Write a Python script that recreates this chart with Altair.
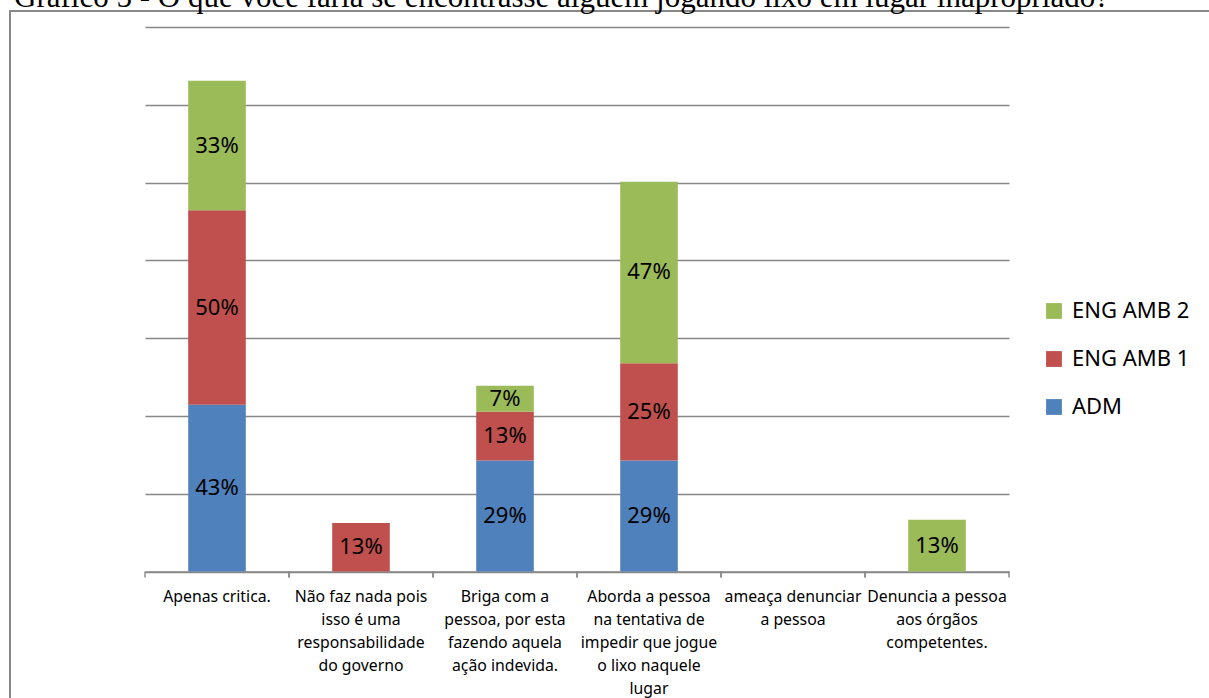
import altair as alt
import pandas as pd

# ---- data ----
categories = [
    "Apenas critica.",
    "Não faz nada pois\nisso é uma\nresponsabilidade\ndo governo",
    "Briga com a\npessoa, por esta\nfazendo aquela\nação indevida.",
    "Aborda a pessoa\nna tentativa de\nimpedir que jogue\no lixo naquele\nlugar",
    "ameaça denunciar\na pessoa",
    "Denuncia a pessoa\naos órgãos\ncompetentes.",
]
series = ["ADM", "ENG AMB 1", "ENG AMB 2"]
adm = [42.86, 0, 28.57, 28.57, 0, 0]
eng1 = [50.0, 12.5, 12.5, 25.0, 0, 0]
eng2 = [33.33, 0, 6.67, 46.67, 0, 13.33]
colors = ["#4F81BD", "#C0504D", "#9BBB59"]
title_text = "Gráfico 5 - O que você faria se encontrasse alguém jogando lixo em lugar inapropriado?"

rows = []
for s_i, (name, vals) in enumerate(zip(series, [adm, eng1, eng2])):
    for c, v in zip(categories, vals):
        if v > 0:
            rows.append({"cat": c, "serie": name, "v": v, "ord": s_i})
df = pd.DataFrame(rows)

W, H = 864, 544.5
FONT = "Noto Sans"

x_axis = alt.Axis(
    title=None,
    labelAngle=0,
    ticks=False,
    grid=False,
    domainColor="#878787",
    domainWidth=1.4,
    labelExpr="split(datum.value, '\\n')",
    labelFont=FONT,
    labelFontSize=15.8,
    labelLineHeight=23,
    labelColor="#000000",
    labelPadding=18,
    labelLimit=300,
)
x_scale = alt.Scale(domain=categories, paddingInner=0, paddingOuter=0)
y_scale = alt.Scale(domain=[0, 140], nice=False)
y_axis = alt.Axis(
    title=None,
    values=[0, 20, 40, 60, 80, 100, 120, 140],
    labels=False,
    ticks=False,
    domain=False,
    grid=True,
    gridColor="#878787",
    gridWidth=1.4,
)

base = alt.Chart(df)

bars = base.mark_bar(width=alt.RelativeBandSize(0.4)).encode(
    x=alt.X("cat:N", sort=categories, scale=x_scale, axis=x_axis),
    y=alt.Y("v:Q", stack="zero", scale=y_scale, axis=y_axis),
    color=alt.Color(
        "serie:N",
        scale=alt.Scale(domain=["ENG AMB 2", "ENG AMB 1", "ADM"],
                        range=[colors[2], colors[1], colors[0]]),
        legend=alt.Legend(
            title=None,
            orient="none",
            legendX=898,
            legendY=273,
            padding=0,
            symbolType="square",
            symbolSize=250,
            symbolStrokeWidth=0,
            labelFont=FONT,
            labelFontSize=22,
            labelColor="#000000",
            labelOffset=7,
            rowPadding=26,
        ),
    ),
    order=alt.Order("ord:Q", sort="ascending"),
)

labels = (
    base.transform_stack(
        stack="v", groupby=["cat"], as_=["y0", "y1"], sort=[alt.SortField("ord", order="ascending")]
    )
    .transform_calculate(mid="(datum.y0 + datum.y1) / 2", lab="format(datum.v / 100, '.0%')")
    .mark_text(font=FONT, fontSize=22, color="#000000", baseline="middle")
    .encode(
        x=alt.X("cat:N", sort=categories, scale=x_scale, axis=x_axis),
        y=alt.Y("mid:Q", scale=y_scale, axis=y_axis),
        text="lab:N",
    )
)

cat_df = pd.DataFrame({"cat": categories})
ticks_left = alt.Chart(cat_df).mark_rule(color="#878787", strokeWidth=1.4).encode(
    x=alt.X("cat:N", sort=categories, bandPosition=0, scale=x_scale, axis=x_axis),
    y=alt.value(H),
    y2=alt.value(H + 6),
)
ticks_right = alt.Chart(cat_df).mark_rule(color="#878787", strokeWidth=1.4).encode(
    x=alt.X("cat:N", sort=categories, bandPosition=1, scale=x_scale, axis=x_axis),
    y=alt.value(H),
    y2=alt.value(H + 6),
)

frame = alt.Chart(pd.DataFrame({"k": [0]})).mark_rect(
    fill="transparent", stroke="#888888", strokeWidth=2
).encode(
    x=alt.value(-135), y=alt.value(-16), x2=alt.value(1209 - 145 + 20), y2=alt.value(698 - 27 + 20)
)

title = alt.Chart(pd.DataFrame({"t": [title_text]})).mark_text(
    font="Liberation Serif", fontSize=31, align="left", baseline="alphabetic", color="#000000"
).encode(text="t:N", x=alt.value(-145 + 14), y=alt.value(-27 + 6.5))

chart = (
    alt.layer(frame, title, bars, labels, ticks_left, ticks_right)
    .properties(
        width=W,
        height=H,
        autosize=alt.AutoSizeParams(type="none"),
        padding={"left": 145, "top": 27, "right": 200, "bottom": 126.5},
        view=alt.ViewBackground(stroke="transparent", strokeWidth=0),
    )
    .configure_view(stroke="transparent", strokeWidth=0)
    .configure(background="white")
)

chart.save("out.html", embed_options={"renderer": "svg", "actions": False})
